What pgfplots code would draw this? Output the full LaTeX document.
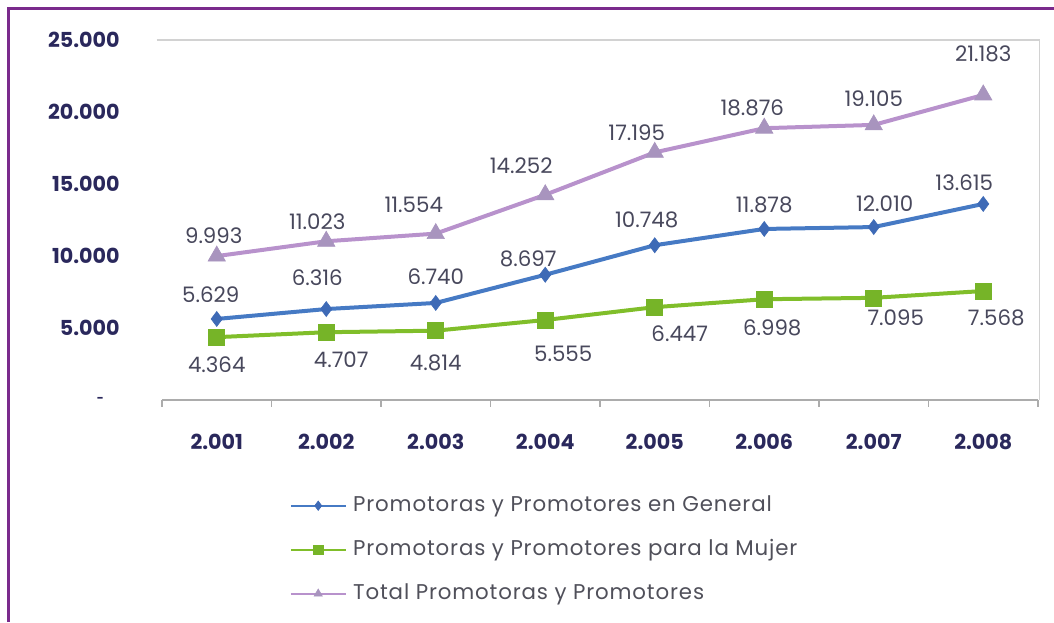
\documentclass[border=0pt]{standalone}
\usepackage{pgfplots}
\usepackage{pgfplotstable}
\pgfplotsset{compat=1.18}
\usepackage{fontspec}
\setmainfont{Poppins}
\newfontfamily\legfont[LetterSpace=4]{Poppins}
\definecolor{framec}{RGB}{122,42,140}
\definecolor{navy}{RGB}{42,40,92}
\definecolor{labelc}{RGB}{72,72,92}
\definecolor{legtext}{RGB}{80,80,90}
\definecolor{bluec}{RGB}{70,122,196}
\definecolor{bluem}{RGB}{62,106,182}
\definecolor{greenc}{RGB}{128,190,42}
\definecolor{greenm}{RGB}{118,180,40}
\definecolor{totalc}{RGB}{184,146,204}
\definecolor{totalm}{RGB}{168,148,190}

\pgfplotstableread{
x y dx dy
0 5629 -4.5 18
1 6316 -6.75 23.25
2 6740 0 19.5
3 8697 -12.75 12
4 10748 -6 18.75
5 11878 0 18
6 12010 8.25 17.25
7 13615 -14.25 15.75
}\general
\pgfplotstableread{
x y dx dy
0 4364 0 -21
1 4707 11.25 -21
2 4814 0 -24
3 5555 13.5 -25.5
4 6447 18.75 -20.25
5 6998 6 -21.75
6 7095 16.5 -15
7 7568 9.75 -20.25
}\mujer
\pgfplotstableread{
x y dx dy
0 9993 -2.25 15
1 11023 -6.75 15
2 11554 -16.5 21.75
3 14252 -18 21.75
4 17195 -13.5 15
5 18876 -9 15
6 19105 0 19.5
7 21183 0 30.75
}\total

\pgfplotsset{
  lbl/.style={
    nodes near coords, point meta=y,
    visualization depends on={\thisrow{dx}\as\dx},
    visualization depends on={\thisrow{dy}\as\dy},
    nodes near coords style={font=\fontsize{16}{18}\selectfont, text=labelc, anchor=center, xshift=\dx pt, yshift=\dy pt}},
}

\begin{document}
\begin{tikzpicture}
\path[use as bounding box] (0,0) rectangle (790.5pt,466.5pt);
\draw[line width=2.25pt, color=framec] (6pt,0pt) -- (6pt,459.75pt) -- (790.5pt,459.75pt);
\begin{axis}[
  at={(121.5pt,166.5pt)}, anchor=south west,
  scale only axis, width=657pt, height=270pt,
  xmin=-0.5, xmax=7.5, ymin=0, ymax=25000,
  clip=false,
  scaled y ticks=false,
  axis x line*=bottom, axis y line*=left,
  y axis line style={draw=none},
  x axis line style={draw=gray!65, line width=0.8pt, -},
  xtick={0,...,7},
  xticklabels={2.001,2.002,2.003,2.004,2.005,2.006,2.007,2.008},
  major x tick style={draw=none},
  minor xtick={-0.5,0.5,...,7.5},
  minor x tick style={draw=gray!65, line width=0.8pt},
  minor tick length=5pt,
  tick align=outside,
  ytick={0,5000,10000,15000,20000,25000},
  yticklabels={{\makebox[17pt][l]{\fontsize{9}{9}\selectfont -}},5.000,10.000,15.000,20.000,25.000},
  major y tick style={draw=none},
  ticklabel style={font=\bfseries\fontsize{15.5}{17}\selectfont, text=navy},
  yticklabel style={anchor=east, xshift=-24pt},
  xticklabel style={anchor=base, yshift=-33pt},
  legend style={at={(0.146,-0.264)}, anchor=north west, draw=none, fill=none,
    inner sep=0pt, outer sep=0pt, row sep=17pt, column sep=5pt,
    font=\legfont\fontsize{16}{18}\selectfont, text=legtext,
    nodes={inner sep=0pt, text height=12pt, text depth=4pt}},
  legend cell align=left,
  legend image code/.code={\draw[mark repeat=2, mark phase=2, #1, line width=1.5pt, mark size=3.5pt] plot coordinates {(0pt,0pt) (20.5pt,0pt) (41pt,0pt)};},
  /pgf/number format/1000 sep={.},
  /pgf/number format/assume math mode=true,
]
\addplot[color=bluec, line width=3pt, mark=diamond*, mark size=5.6pt,
  mark options={fill=bluem, draw=bluem, line width=0.5pt}, lbl]
  table[x=x, y=y] {\general};
\addlegendentry{Promotoras y Promotores en General}
\addplot[color=greenc, line width=3pt, mark=square*, mark size=6pt,
  mark options={fill=greenm, draw=greenm, line width=0.5pt}, lbl]
  table[x=x, y=y] {\mujer};
\addlegendentry{Promotoras y Promotores para la Mujer}
\addplot[color=totalc, line width=3pt, mark=triangle*, mark size=7.5pt,
  mark options={fill=totalm, draw=totalm, line width=0.5pt}, lbl]
  table[x=x, y=y] {\total};
\addlegendentry{Total Promotoras y Promotores}
\draw[color=gray!35, line width=0.8pt] (rel axis cs:-0.006,1) -- (rel axis cs:1.002,1) -- (rel axis cs:1.002,0);
\end{axis}
\end{tikzpicture}
\end{document}
